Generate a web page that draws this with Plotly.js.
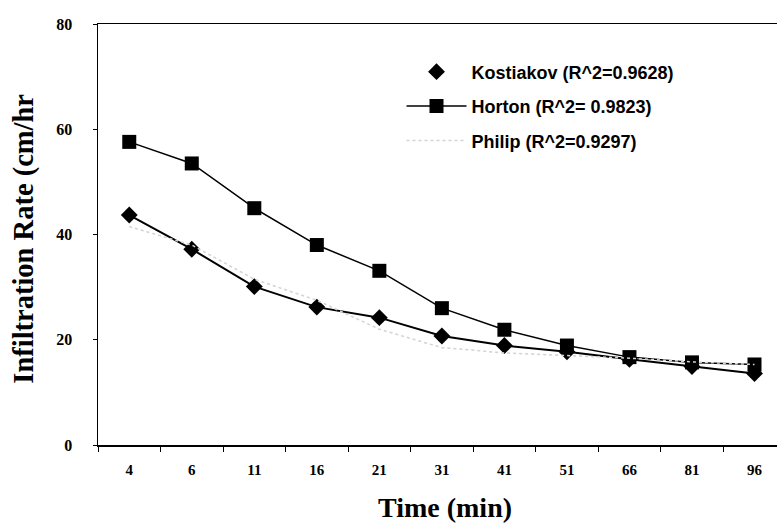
<!DOCTYPE html>
<html>
<head>
<meta charset="utf-8">
<script src="https://cdn.plot.ly/plotly-3.0.1.min.js"></script>
<style>html,body{margin:0;padding:0;background:#fff;overflow:hidden}</style>
</head>
<body>
<div id="chart" style="width:777px;height:527px"></div>
<script>
const timeLabels = ["4","6","11","16","21","31","41","51","66","81","96"];
const kostiakov = [43.7, 37.2, 30.1, 26.2, 24.2, 20.7, 18.9, 17.7, 16.3, 14.9, 13.6];
const horton    = [57.6, 53.5, 45.0, 38.0, 33.1, 26.0, 21.9, 18.9, 16.7, 15.7, 15.3];
const philip    = [41.5, 38.0, 31.5, 27.5, 22.0, 18.5, 17.5, 17.0, 16.5, 15.8, 15.3];
const seriesNames = ["Kostiakov (R^2=0.9628)", "Horton (R^2= 0.9823)", "Philip (R^2=0.9297)"];

const traces = [
  {x: timeLabels, y: philip, type: 'scatter', mode: 'lines', name: seriesNames[2],
   line: {color: '#ececec', width: 1, dash: 'dot'}, showlegend: false, hoverinfo: 'skip'},
  {x: timeLabels, y: kostiakov, type: 'scatter', mode: 'lines', name: seriesNames[0],
   line: {color: '#000', width: 2}, showlegend: false},
  {x: timeLabels, y: horton, type: 'scatter', mode: 'lines+markers', name: seriesNames[1],
   line: {color: '#000', width: 1.5}, marker: {symbol: 'square', size: 14, color: '#000'},
   legendgroup: 'b', legendrank: 2},
  {x: timeLabels, y: kostiakov, type: 'scatter', mode: 'markers', name: seriesNames[0],
   marker: {symbol: 'diamond', size: 13, color: '#000'}, legendgroup: 'a', legendrank: 1},
  {x: timeLabels, y: philip, type: 'scatter', mode: 'lines', name: seriesNames[2],
   line: {color: '#d4d4d4', width: 1.5, dash: 'dot'}, legendgroup: 'c', legendrank: 3, hoverinfo: 'skip'}
];

const serif = 'Liberation Serif, Times New Roman, serif';
const layout = {
  width: 777, height: 527,
  margin: {l: 98, r: 0, t: 24, b: 82},
  paper_bgcolor: '#fff', plot_bgcolor: '#fff',
  showlegend: true,
  legend: {x: 0.447, y: 0.93, xanchor: 'left', yanchor: 'top', itemwidth: 60,
    font: {family: 'Liberation Sans, Arial', size: 18, color: '#000', weight: 'bold'},
    bgcolor: 'rgba(0,0,0,0)', tracegroupgap: 8, traceorder: 'grouped'},
  xaxis: {
    type: 'category', range: [-0.5, 10.36],
    showline: true, linecolor: '#000', linewidth: 1.5, mirror: true,
    ticks: 'outside', tickson: 'boundaries', ticklen: 5, tickcolor: '#000',
    ticklabelstandoff: 10,
    showgrid: false, zeroline: false,
    tickfont: {family: serif, size: 15, color: '#000', weight: 'bold'}
  },
  yaxis: {
    range: [0, 80], tickvals: [0, 20, 40, 60, 80],
    showline: true, linecolor: '#000', linewidth: 1.5,
    ticks: 'outside', ticklen: 4, tickcolor: '#000',
    ticklabelstandoff: 17,
    showgrid: false, zeroline: false,
    tickfont: {family: serif, size: 16, color: '#000', weight: 'bold'}
  },
  annotations: [{
    text: 'Infiltration Rate (cm/hr', textangle: -90,
    xref: 'paper', yref: 'paper', x: -0.109, y: 0.49, xanchor: 'center', yanchor: 'middle',
    showarrow: false,
    font: {family: serif, size: 28.5, color: '#000', weight: 'bold'}
  }, {
    text: 'Time (min)',
    xref: 'paper', yref: 'paper', x: 0.511, y: -0.149, xanchor: 'center', yanchor: 'middle',
    showarrow: false,
    font: {family: serif, size: 28, color: '#000', weight: 'bold'}
  }]
};

Plotly.newPlot('chart', traces, layout, {displayModeBar: false, staticPlot: true});
</script>
</body>
</html>
